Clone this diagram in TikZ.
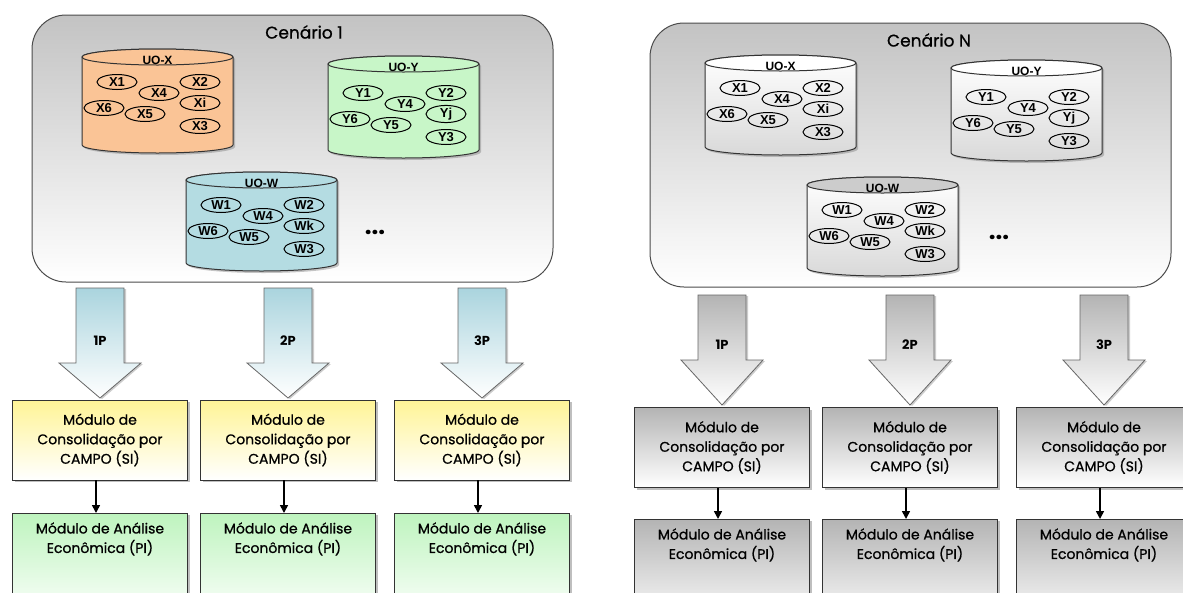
\documentclass[tikz,border=0pt]{standalone}
\usepackage{fontspec}
\setmainfont{Poppins}
\newfontfamily\modfont{Poppins}[FakeBold=0.8]
\newfontfamily\dbfont{Liberation Sans}
\usetikzlibrary{arrows.meta,shapes.geometric,shadows}
\definecolor{panelgray}{RGB}{195,195,195}
\definecolor{uoorange}{RGB}{250,196,150}
\definecolor{uogreen}{RGB}{200,246,200}
\definecolor{uoblue}{RGB}{180,220,226}
\definecolor{arrowblue}{RGB}{170,212,222}
\definecolor{modyellow}{RGB}{255,244,150}
\definecolor{modgreen}{RGB}{190,244,190}
\definecolor{modgray}{RGB}{180,180,180}

% database cylinder: panel, letter, index, left, top, bottom, body, lid, shift
\newcommand\uodb[9]{%
  \path[dbbody,#7] (#4,#5) -- (#4,#6)
    arc[start angle=180,end angle=0,x radius=75.5,y radius=8]
    -- (#4+151,#5)
    arc[start angle=0,end angle=-180,x radius=75.5,y radius=8] -- cycle;
  \path[dbtop,#8] (#4+75.5,#5) ellipse[x radius=75.5,y radius=8];
  \node[dblabel] (#1db#2) at (#4+75.5,#5+3) {UO-#2};
  \foreach \k/\dx/\dy in {1/35/25,4/77/36,2/118/25,#3/118/46,6/22/51,5/63/57,3/118/69}
    \node[item] (#1#2\k) at (#4+\dx,#5+\dy+#9) {#2\k};
}
% block arrow: centre x, top, head start, tip, fill
\newcommand\blockarrow[5]{%
  \path[bigarrow,#5] (#1-24,#2) -- (#1+24,#2) -- (#1+24,#3) -- (#1+41,#3)
    -- (#1,#4) -- (#1-41,#3) -- (#1-24,#3) -- cycle;
}

\begin{document}
\begin{tikzpicture}[x=1pt,y=-1pt,
  panel/.style={draw=black!70,line width=1pt,rounded corners=34pt,
    top color=panelgray,bottom color=white},
  title/.style={font=\modfont\fontsize{17}{17}\selectfont},
  dbbody/.style={draw=black!80,line width=1pt,
    drop shadow={shadow xshift=2pt,shadow yshift=-2pt,opacity=0.45}},
  dbtop/.style={draw=black!80,line width=1pt},
  dblabel/.style={font=\dbfont\bfseries\fontsize{12}{12}\selectfont,inner sep=0pt},
  item/.style={ellipse,draw=black,line width=1pt,minimum width=40pt,
    minimum height=15pt,inner sep=0pt,font=\dbfont\bfseries\fontsize{13}{13}\selectfont},
  dots/.style={font=\bfseries\fontsize{24}{24}\selectfont},
  bigarrow/.style={draw=black!60,line width=0.8pt,
    drop shadow={shadow xshift=2pt,shadow yshift=-1pt,opacity=0.4}},
  plabel/.style={font=\bfseries\fontsize{13}{13}\selectfont},
  modbox/.style={draw=black!80,line width=0.8pt,minimum width=175pt,
    minimum height=80pt,align=center,font=\modfont\fontsize{14}{19.5}\selectfont,
    drop shadow={shadow xshift=2pt,shadow yshift=-2pt,opacity=0.5}},
  flow/.style={-{Triangle[length=8pt,width=8pt]},line width=1.6pt}]

  \clip (0,0) rectangle (1183,592);
  \fill[white] (0,0) rectangle (1183,592);

  % Cenario 1
  \path[panel] (32,15) rectangle (553,282);
  \node[title] (t1) at (304,32) {Cenário 1};
  \uodb{l}{X}{i}{82}{57}{145}{fill=uoorange}{fill=uoorange}{0}
  \uodb{l}{Y}{j}{328}{64}{150}{fill=uogreen}{fill=uogreen}{4}
  \uodb{l}{W}{k}{186}{180}{263}{fill=uoblue}{fill=uoblue}{0}
  \node[dots] (ldots) at (375,232) {...};

  \foreach \i/\x in {1/100,2/288,3/482} {
    \blockarrow{\x}{288}{363}{398}{top color=arrowblue,bottom color=white}
    \node[plabel] (lp\i) at (\x,341) {\i P};
    \node[modbox,top color=modyellow,bottom color=white] (lc\i) at (\x,440)
      {Módulo de\\Consolidação por\\CAMPO (SI)};
    \node[modbox,anchor=north,inner ysep=9pt,text depth=60pt,
      top color=modgreen,bottom color=white] (la\i) at (\x,513)
      {Módulo de Análise\\Econômica (PI)};
    \draw[flow] ([xshift=-4pt]lc\i.south) -- ([xshift=-4pt]la\i.north);
  }

  % Cenario N
  \path[panel] (650,23) rectangle (1171,287);
  \node[title] (t2) at (929,40) {Cenário N};
  \uodb{r}{X}{i}{705}{63}{147}{top color=white,bottom color=gray!30}{fill=white}{0}
  \uodb{r}{Y}{j}{951}{68}{153}{top color=white,bottom color=gray!30}{fill=white}{4}
  \uodb{r}{W}{k}{807}{185}{268}{top color=white,bottom color=gray!30}{fill=gray!40}{0}
  \node[dots] (rdots) at (999,237) {...};

  \foreach \i/\x in {1/722,2/910,3/1104} {
    \blockarrow{\x}{295}{360}{405}{top color=modgray,bottom color=white}
    \node[plabel] (rp\i) at (\x,345) {\i P};
    \node[modbox,top color=modgray,bottom color=white] (rc\i) at (\x,447.5)
      {Módulo de\\Consolidação por\\CAMPO (SI)};
    \node[modbox,anchor=north,inner ysep=9pt,text depth=60pt,
      top color=modgray,bottom color=white] (ra\i) at (\x,519)
      {Módulo de Análise\\Econômica (PI)};
    \draw[flow] ([xshift=-4pt]rc\i.south) -- ([xshift=-4pt]ra\i.north);
  }
\end{tikzpicture}
\end{document}
